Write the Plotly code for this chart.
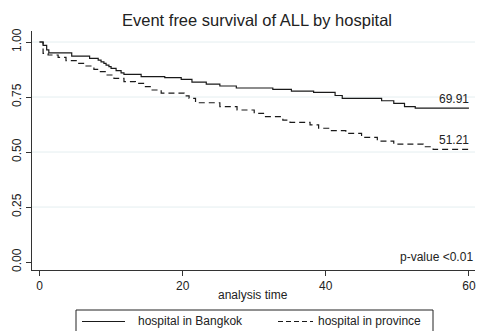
import plotly.graph_objects as go

# Kaplan-Meier step data (time, survival)
t_bkk = [0, 0.5, 1.0, 1.3, 4.5, 7.0, 8.2, 8.6, 9.0, 9.3, 9.7, 10.0, 10.7, 11.4, 11.8, 14.2,
         17.5, 19.8, 21.3, 23.3, 25.2, 27.5, 32.6, 35.2, 38.3, 41.3, 42.3, 47.8, 49.5, 51.0,
         52.5, 60]
s_bkk = [1.0, 0.985, 0.964, 0.951, 0.936, 0.926, 0.918, 0.910, 0.903, 0.895, 0.888, 0.880,
         0.870, 0.860, 0.853, 0.843, 0.838, 0.830, 0.818, 0.809, 0.800, 0.791, 0.785, 0.777,
         0.771, 0.757, 0.744, 0.733, 0.721, 0.706, 0.6991, 0.6991]

t_prv = [0, 0.5, 1.2, 2.6, 3.7, 5.4, 6.5, 7.6, 8.4, 9.3, 10.4, 11.8, 13.4, 14.7, 15.6, 17.0,
         20.2, 20.9, 21.8, 25.2, 27.6, 30.0, 31.3, 34.0, 35.0, 37.8, 39.0, 40.4, 42.8, 45.0,
         47.2, 49.5, 53.6, 55.0, 60]
s_prv = [1.0, 0.948, 0.941, 0.930, 0.915, 0.903, 0.891, 0.876, 0.865, 0.850, 0.835, 0.820,
         0.812, 0.797, 0.782, 0.768, 0.755, 0.744, 0.724, 0.706, 0.691, 0.676, 0.661, 0.645,
         0.635, 0.623, 0.608, 0.597, 0.585, 0.567, 0.55, 0.536, 0.524, 0.5121, 0.5121]

series_names = ["hospital in Bangkok", "hospital in province"]
end_labels = ["69.91", "51.21"]
x_ticks = [0, 20, 40, 60]
y_ticks = [0.0, 0.25, 0.5, 0.75, 1.0]
y_ticklabels = ["0.00", "0.25", "0.50", "0.75", "1.00"]
title = "Event free survival of ALL by hospital"
x_title = "analysis time"
pval_text = "p-value <0.01"

FONT = "Liberation Sans, Arial, sans-serif"
TXT = "#222222"
LINE = "#1a1a1a"

W, H = 478, 331
ML, MR, MT, MB = 32, 3, 31, 61
PW, PH = W - ML - MR, H - MT - MB


def px_x(px):
    return (px - ML) / PW


def px_y(py):
    return (H - MB - py) / PH


fig = go.Figure()
fig.add_trace(go.Scatter(x=t_bkk, y=s_bkk, mode="lines", line_shape="hv",
                         name=series_names[0], showlegend=False,
                         line=dict(color=LINE, width=1.2)))
fig.add_trace(go.Scatter(x=t_prv, y=s_prv, mode="lines", line_shape="hv",
                         name=series_names[1], showlegend=False,
                         line=dict(color=LINE, width=1.2, dash="6px,4px")))

# gridlines (none at 0)
for yv in y_ticks[1:]:
    fig.add_shape(type="line", xref="paper", yref="y", x0=0, x1=1, y0=yv, y1=yv,
                  line=dict(color="#e4eef0", width=1), layer="below")

# end labels
for lab, yv in zip(end_labels, [s_bkk[-1], s_prv[-1]]):
    fig.add_annotation(x=t_bkk[-1], y=yv, text=lab, showarrow=False,
                       xanchor="right", yanchor="bottom", xshift=2,
                       font=dict(family=FONT, size=12, color=TXT))

fig.add_annotation(x=1, xref="paper", y=0.023, yref="y", text=pval_text, showarrow=False,
                   xanchor="right", yanchor="middle", xshift=0,
                   font=dict(family=FONT, size=12, color=TXT))

# x-axis title
fig.add_annotation(x=px_x(253), xref="paper", y=px_y(295), yref="paper", text=x_title,
                   showarrow=False, xanchor="center", yanchor="middle",
                   font=dict(family=FONT, size=12, color=TXT))

# manual legend box (cut off at the bottom like the reference)
fig.add_shape(type="rect", xref="paper", yref="paper",
              x0=px_x(76), x1=px_x(433), y0=px_y(336), y1=px_y(310),
              line=dict(color="#222222", width=1), fillcolor="white")
fig.add_shape(type="line", xref="paper", yref="paper",
              x0=px_x(82), x1=px_x(125), y0=px_y(321.5), y1=px_y(321.5),
              line=dict(color=LINE, width=1.2))
fig.add_shape(type="line", xref="paper", yref="paper",
              x0=px_x(278), x1=px_x(313), y0=px_y(321.5), y1=px_y(321.5),
              line=dict(color=LINE, width=1.2, dash="5px,3px"))
fig.add_annotation(x=px_x(136), xref="paper", y=px_y(321), yref="paper",
                   text=series_names[0], showarrow=False, xanchor="left", yanchor="middle",
                   font=dict(family=FONT, size=12, color=TXT))
fig.add_annotation(x=px_x(316), xref="paper", y=px_y(321), yref="paper",
                   text=series_names[1], showarrow=False, xanchor="left", yanchor="middle",
                   font=dict(family=FONT, size=12, color=TXT))

fig.update_layout(
    width=W, height=H,
    margin=dict(l=ML, r=MR, t=MT, b=MB, autoexpand=False),
    paper_bgcolor="white", plot_bgcolor="white",
    font=dict(family=FONT, size=12, color=TXT),
    title=dict(text=title, x=257 / W, xanchor="center", y=1 - 20 / H, yanchor="middle",
               font=dict(family=FONT, size=16.5, color=TXT)),
    showlegend=False,
    xaxis=dict(range=[-1.05, 60.85], tickvals=x_ticks, showgrid=False, zeroline=False,
               showline=True, linecolor="#333333", linewidth=1, automargin=False,
               ticks="outside", ticklen=5, tickcolor="#333333",
               tickfont=dict(family=FONT, size=12, color=TXT)),
    yaxis=dict(range=[-0.036, 1.05], tickvals=y_ticks, ticktext=y_ticklabels,
               tickangle=-90, showgrid=False, zeroline=False, automargin=False,
               showline=True, linecolor="#333333", linewidth=1,
               ticks="outside", ticklen=5, tickcolor="#333333",
               tickfont=dict(family=FONT, size=12, color=TXT)),
)

fig.write_html("out.html")
